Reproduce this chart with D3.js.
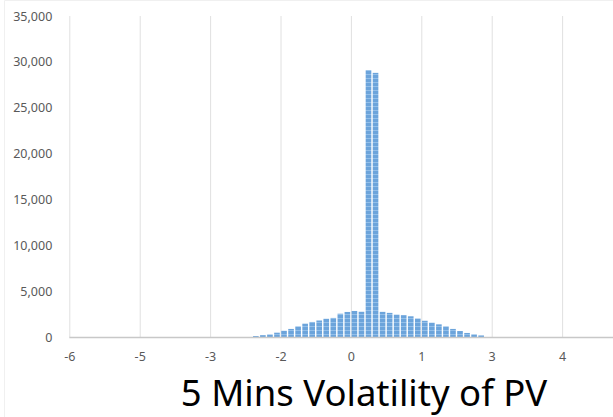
<!DOCTYPE html>
<html>
<head>
<meta charset="utf-8">
<script src="https://cdn.jsdelivr.net/npm/d3@7"></script>
<style>
  body { margin: 0; background: #fff; }
  svg { display: block; }
  text { font-family: "Noto Sans", "Open Sans", sans-serif; }
</style>
</head>
<body>
<svg class="chart"></svg>
<script>
// bin start values (volatility), one per bar
var categories = [
  -6.000, -5.855, -5.710, -5.565, -5.420, -5.275, -5.130, -4.985, -4.840, -4.695,
  -4.550, -4.405, -4.260, -4.115, -3.970, -3.825, -3.680, -3.535, -3.390, -3.245,
  -3.100, -2.955, -2.810, -2.665, -2.520, -2.375, -2.230, -2.085, -1.940, -1.795,
  -1.650, -1.505, -1.360, -1.215, -1.070, -0.925, -0.780, -0.635, -0.490, -0.345,
  -0.200, -0.055, 0.090, 0.235, 0.380, 0.525, 0.670, 0.815, 0.960, 1.105,
  1.250, 1.395, 1.540, 1.685, 1.830, 1.975, 2.120, 2.265, 2.410, 2.555,
  2.700, 2.845, 2.990, 3.135, 3.280, 3.425, 3.570, 3.715, 3.860, 4.005,
  4.150, 4.295, 4.440, 4.585, 4.730, 4.875, 5.020, 5.165
];

// frequency in each bin
var counts = [
  0, 0, 0, 0, 0, 0, 0, 0, 0, 0,
  0, 0, 0, 0, 0, 0, 0, 0, 0, 0,
  0, 0, 0, 0, 0, 0, 100, 200, 280, 470,
  680, 880, 1160, 1450, 1640, 1800, 1990, 2080, 2540, 2730,
  2840, 2750, 29100, 28800, 2740, 2630, 2440, 2380, 2260, 2020,
  1770, 1560, 1380, 1160, 880, 650, 440, 290, 170, 0,
  0, 0, 0, 0, 0, 0, 0, 0, 0, 0,
  0, 0, 0, 0, 0, 0, 0, 0
];

// a label on every 10th bin
var xTickIndex = [0, 10, 20, 30, 40, 50, 60, 70];
var xTickLabels = ["-6", "-5", "-3", "-2", "0", "1", "3", "4"];
var yTicks = [0, 5000, 10000, 15000, 20000, 25000, 30000, 35000];

var width = 613,
    height = 417,
    plotLeft = 69.3,
    step = 7.04,
    plotTop = 16,
    plotBottom = 337;

var svg = d3.select(".chart")
    .attr("width", width)
    .attr("height", height);

// bar texture, kind of like the striped excel fill
var defs = svg.append("defs");
var pat = defs.append("pattern")
    .attr("id", "stripes")
    .attr("patternUnits", "userSpaceOnUse")
    .attr("width", 8)
    .attr("height", 4);
pat.append("rect").attr("width", 8).attr("height", 4).attr("fill", "#6ca4db");
pat.append("rect").attr("y", 2).attr("width", 8).attr("height", 1).attr("fill", "#93bfe9");

// faint chart-area border
svg.append("path")
    .attr("d", "M4.5,417V0.5H613")
    .attr("fill", "none")
    .attr("stroke", "#f0f0f0");

var x = d3.scaleBand()
    .domain(d3.range(categories.length))
    .range([plotLeft, plotLeft + step * categories.length])
    .paddingInner(0.2)
    .paddingOuter(0.1);

// bin edges, for gridlines and labels
var xEdge = d3.scaleLinear()
    .domain([0, categories.length])
    .range([plotLeft, plotLeft + step * categories.length]);

var y = d3.scaleLinear()
    .domain([0, 35000])
    .range([plotBottom, plotTop]);

// vertical gridlines
var grid = svg.append("g")
    .attr("transform", "translate(0," + plotBottom + ")")
    .call(d3.axisBottom(xEdge)
        .tickValues(xTickIndex)
        .tickSize(-(plotBottom - plotTop))
        .tickFormat(""));
grid.select(".domain").remove();
grid.selectAll("line").attr("stroke", "#e0e0e0");

// bars
svg.append("g")
    .selectAll("rect")
    .data(counts)
  .enter().append("rect")
    .attr("x", function(d, i) { return x(i); })
    .attr("y", function(d) { return y(d); })
    .attr("width", x.bandwidth())
    .attr("height", function(d) { return plotBottom - y(d); })
    .attr("fill", "url(#stripes)");

// baseline
svg.append("line")
    .attr("x1", plotLeft)
    .attr("x2", width)
    .attr("y1", plotBottom + 0.5)
    .attr("y2", plotBottom + 0.5)
    .attr("stroke", "#c8c8c8")
    .attr("stroke-width", 1.5);

// x labels
var xAxis = svg.append("g")
    .attr("transform", "translate(0," + plotBottom + ")")
    .call(d3.axisBottom(xEdge)
        .tickValues(xTickIndex)
        .tickSize(0)
        .tickPadding(15)
        .tickFormat(function(d, i) { return xTickLabels[i]; }));
xAxis.select(".domain").remove();
xAxis.selectAll("text")
    .attr("fill", "#595959")
    .style("font-size", "12.5px")
    .style("font-family", "'Noto Sans', sans-serif");

// y labels
var yAxis = svg.append("g")
    .attr("transform", "translate(" + plotLeft + ",0)")
    .call(d3.axisLeft(y)
        .tickValues(yTicks)
        .tickSize(0)
        .tickPadding(17)
        .tickFormat(d3.format(",")));
yAxis.select(".domain").remove();
yAxis.selectAll("text")
    .attr("fill", "#595959")
    .style("font-size", "12.5px")
    .style("font-family", "'Noto Sans', sans-serif");

// title under the chart
svg.append("text")
    .attr("x", 364)
    .attr("y", 406)
    .attr("text-anchor", "middle")
    .attr("fill", "#000")
    .style("font-size", "36.5px")
    .text("5 Mins Volatility of PV");
</script>
</body>
</html>
